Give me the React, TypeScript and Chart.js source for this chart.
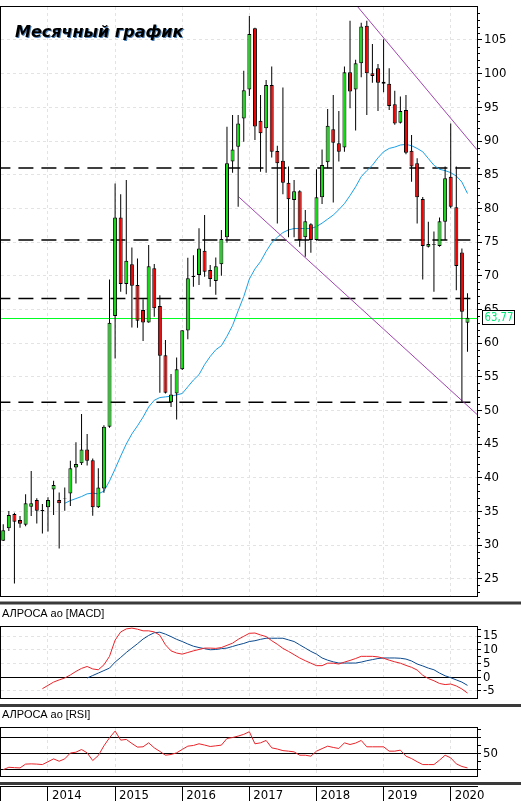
import React, { useEffect, useRef } from 'react';
import { Chart, registerables } from 'chart.js';

Chart.register(...registerables);

const NARROW = '"Liberation Sans Narrow", "Arial Narrow", "DejaVu Sans Condensed", sans-serif';
const SANS = '"Liberation Sans", Arial, sans-serif';

// ---- data (monthly candles, May 2013 .. Apr 2020) ----
const startMonth = 5;
const opens = [30.65, 32.5, 34.6, 33.7, 33.0, 35.7, 36.7, 35.2, 35.6, 38.25, 36.7, 36.9,
  37.65, 41.5, 42.15, 44.2, 42.6, 35.6, 38.4, 47.55, 64.0, 78.65, 68.75, 71.7,
  68.6, 64.9, 63.05, 71.1, 65.5, 58.2, 51.2, 52.5, 56.1, 61.85, 69.8, 70.1,
  73.7, 70.85, 69.2, 71.7, 75.7, 86.95, 89.15, 93.35, 97.65, 106.75, 93.0, 91.9,
  98.3, 88.5, 87.05, 83.8, 81.25, 82.55, 75.7, 77.65, 75.3, 81.65, 86.85, 91.75,
  89.65, 89.05, 100.2, 97.65, 101.55, 107.1, 100.05, 100.8, 98.8, 98.5, 95.45, 92.7,
  94.6, 88.55, 86.7, 81.4, 74.3, 74.6, 74.4, 78.0, 84.7, 80.15, 73.45, 63.0];
const highs = [33.1, 35.05, 34.8, 34.3, 37.55, 41.0, 36.95, 36.1, 37.1, 39.55, 37.8, 38.55,
  42.5, 45.25, 49.45, 46.5, 42.85, 41.4, 47.8, 69.45, 83.7, 82.1, 84.2, 74.2,
  72.55, 66.5, 74.55, 71.75, 67.1, 60.45, 55.4, 57.85, 61.9, 72.65, 73.05, 77.05,
  79.0, 71.6, 72.7, 76.8, 92.1, 93.85, 93.85, 100.45, 108.55, 106.8, 96.85, 99.05,
  101.05, 89.3, 97.95, 86.2, 84.2, 82.7, 79.75, 77.8, 85.8, 88.75, 94.75, 96.85,
  94.45, 101.05, 107.85, 102.05, 107.55, 107.85, 104.4, 101.45, 105.1, 100.8, 97.45, 96.6,
  96.85, 90.9, 87.45, 81.7, 78.0, 76.55, 78.65, 86.2, 92.6, 86.2, 74.05, 67.4];
const lows = [30.6, 32.1, 24.3, 32.55, 32.8, 34.3, 33.2, 31.7, 32.0, 34.45, 29.5, 35.1,
  35.8, 39.15, 41.9, 41.8, 34.35, 35.5, 37.75, 47.4, 57.7, 67.6, 67.25, 62.3,
  62.25, 60.3, 63.0, 63.9, 52.6, 52.5, 50.5, 48.65, 56.0, 60.55, 68.35, 68.6,
  69.85, 68.35, 67.15, 70.0, 74.9, 85.3, 80.25, 89.9, 96.7, 90.15, 85.45, 85.3,
  87.55, 77.75, 82.1, 75.7, 75.7, 74.3, 72.8, 73.4, 75.2, 80.65, 85.95, 80.85,
  86.95, 88.4, 94.85, 91.55, 99.45, 93.85, 98.65, 94.45, 97.25, 94.6, 92.4, 92.6,
  88.05, 83.95, 77.75, 69.45, 74.2, 67.6, 74.3, 75.3, 80.0, 67.85, 51.1, 58.7];
const closes = [32.2, 34.45, 33.45, 33.15, 36.2, 36.2, 35.1, 35.0, 36.7, 38.9, 36.2, 37.0,
  41.4, 42.05, 44.2, 42.5, 35.6, 38.55, 47.55, 63.0, 78.65, 68.75, 72.2, 68.5,
  63.3, 63.05, 71.4, 65.15, 58.1, 52.6, 52.35, 56.1, 61.9, 69.6, 70.0, 74.05,
  70.6, 69.5, 71.4, 75.45, 86.7, 88.75, 92.6, 97.55, 105.9, 92.15, 91.15, 98.3,
  88.4, 86.7, 83.8, 81.35, 82.55, 75.3, 78.1, 75.3, 81.65, 86.45, 92.25, 89.75,
  88.4, 100.2, 97.35, 101.55, 107.0, 100.05, 99.65, 98.65, 98.5, 95.2, 92.6, 94.45,
  88.25, 86.2, 81.65, 74.4, 74.7, 74.7, 78.1, 84.45, 80.25, 71.45, 64.65, 63.77];

// moving average, starts at candle 11
const maStart = 11;
const maValues = [36.2, 36.6, 36.9, 37.2, 37.6, 37.7, 37.6, 38.0, 39.5, 41.3, 43.2, 45.0,
  46.5, 47.7, 49.0, 50.5, 51.5, 51.9, 52.0, 52.1, 52.3, 52.5, 53.5, 54.5,
  55.3, 56.8, 58.0, 59.0, 59.6, 61.0, 62.6, 64.8, 66.9, 69.5, 71.0, 72.1,
  73.6, 74.9, 75.7, 76.4, 76.8, 77.0, 77.0, 77.0, 77.0, 77.3, 77.8, 78.4,
  79.0, 79.8, 80.7, 81.9, 83.2, 84.7, 85.6, 86.4, 87.5, 88.4, 88.9, 89.1,
  89.4, 89.5, 89.3, 88.9, 88.4, 87.4, 86.4, 85.8, 85.6, 85.3, 84.8, 83.9, 82.2];

const levels = [86.0, 75.3, 66.6, 51.2];
const trendUpperX = [63.3, 84.7];
const trendUpperY = [110.0, 88.7];
const trendLowerX = [42.1, 84.7];
const trendLowerY = [81.7, 49.4];

// MACD
const macdStart = 7;
const macdValues = [-4.2, -3.0, -1.8, -1.0, -0.3, 0.8, 2.1, 3.2, 3.9, 3.0, 2.7, 4.5, 7.6,
  13.5, 16.5, 17.6, 17.9, 17.5, 16.9, 16.9, 16.5, 15.3, 11.8, 9.6, 8.8, 8.4, 9.0, 9.6,
  10.1, 10.6, 10.6, 10.5, 10.8, 11.6, 12.4, 13.8, 14.9, 16.0, 16.1, 15.4, 14.8, 13.3,
  12.0, 10.5, 9.4, 8.2, 7.0, 6.0, 5.1, 4.2, 4.2, 5.1, 5.1, 4.8, 5.5, 6.1, 6.8, 7.6,
  7.6, 7.6, 7.4, 6.9, 6.2, 5.6, 5.1, 4.3, 3.6, 2.6, 0.7, -0.5, -1.3, -2.3, -2.7, -2.5,
  -3.2, -4.3, -5.8];
const signalStart = 15;
const signalValues = [-0.3, 0.6, 1.5, 2.4, 3.3, 5.5, 7.2, 9.0, 10.6, 12.2, 13.9, 15.2,
  16.2, 16.4, 15.7, 14.8, 13.8, 13.0, 12.1, 11.3, 10.8, 10.4, 10.0, 10.1, 10.4, 10.6,
  11.2, 11.8, 12.3, 13.0, 13.3, 13.8, 14.2, 14.2, 14.2, 14.2, 13.6, 13.0, 11.8, 10.6,
  9.4, 8.4, 7.0, 6.2, 5.6, 5.15, 5.15, 5.15, 5.15, 5.5, 6.0, 6.4, 6.8, 7.0, 7.0, 7.0,
  6.9, 6.6, 5.9, 4.8, 4.1, 3.3, 2.7, 1.5, 0.5, -0.2, -1.0, -1.8, -3.0];

// RSI
const rsiValues = [30, 33, 32.5, 32.2, 37, 37.3, 37, 36.4, 40, 43.6, 40.6, 43.6,
  51, 52, 55.4, 51.2, 41.5, 47.8, 60, 70.2, 78.6, 67.2, 68.1, 63,
  58.4, 58.8, 63.8, 57.5, 53, 48.2, 49.1, 51.2, 55.5, 59.6, 60.5, 62.6,
  61, 59.2, 60, 60.9, 69.3, 70.5, 72.3, 74.5, 77.8, 62.6, 63.8, 66.8,
  57.5, 56, 54, 53.3, 52.4, 48.2, 48.2, 47, 53.3, 56.5, 59.6, 58,
  56.7, 63.8, 61.7, 63.5, 66.8, 58.8, 58.8, 58.8, 58.8, 53.3, 53.3, 54.6,
  47, 44, 40, 36.4, 36.4, 36.4, 42, 48.2, 44.9, 37.3, 34, 32.2];

const yearLabels = ['2014', '2015', '2016', '2017', '2018', '2019', '2020'];
const priceTicks = [25, 30, 35, 40, 45, 50, 55, 60, 65, 70, 75, 80, 85, 90, 95, 100, 105];
const macdTicks = [-5, -2.5, 0, 2.5, 5, 7.5, 10, 12.5, 15, 17.5];
const rsiTicks = [30, 40, 50, 60, 70, 80];
const rsiLines = [30, 50, 70];

const firstJanIdx = 12 - startMonth + 1;
const yearIdx = yearLabels.map((_, i) => firstJanIdx + 12 * i);
const X_MIN = -0.4;
const X_MAX = 84.7;
const AXIS_W = 44;
const GRID = '#e3e3e3';
const UP = '#10dd10';
const DOWN = '#ee0000';

const series = (start: number, vals: number[]) => vals.map((v, i) => ({ x: start + i, y: v }));
const span = (y: number) => [{ x: X_MIN - 1, y }, { x: X_MAX + 1, y }];

function xScale(color: string, dash: number[]) {
  return {
    type: 'linear', min: X_MIN, max: X_MAX, offset: false,
    afterBuildTicks: (s: any) => { s.ticks = yearIdx.map((v) => ({ value: v })); },
    afterFit: (s: any) => { s.height = 0; s.paddingLeft = 0; s.paddingRight = 0; },
    ticks: { display: false },
    grid: { color, drawTicks: false, offset: false, lineWidth: 1 },
    border: { display: false, dash },
  };
}

function yScale(min: number, max: number, ticks: number[], label: (v: number) => string,
  color: any, dash: any, tickLength: number) {
  return {
    type: 'linear', position: 'right', min, max, beginAtZero: false,
    afterBuildTicks: (s: any) => { s.ticks = ticks.map((v) => ({ value: v })); },
    afterFit: (s: any) => { s.width = AXIS_W; s.paddingTop = 0; s.paddingBottom = 0; },
    ticks: { callback: (v: any) => label(Number(v)), font: { family: NARROW, size: 13 }, color: '#000', padding: 2, autoSkip: false, maxRotation: 0 },
    grid: { color, tickColor: '#000', tickLength, tickWidth: 1, lineWidth: 1, drawTicks: true },
    border: { display: false, dash },
  };
}

const framePlugin = {
  id: 'frame',
  afterDatasetsDraw(chart: any) {
    const { ctx, chartArea: a } = chart;
    ctx.save();
    ctx.strokeStyle = '#000';
    ctx.lineWidth = 1;
    ctx.strokeRect(a.left - 0.5, a.top - 0.5, a.right - a.left + 1, a.bottom - a.top + 1);
    ctx.restore();
  },
};

function decorPlugin(label: string | null, sepY: number, labelY: number) {
  return {
    id: 'decor',
    beforeDraw(chart: any) {
      const { ctx, width } = chart;
      ctx.save();
      ctx.fillStyle = '#3a3a3a';
      ctx.fillRect(0, sepY - 1.5, width, 3);
      if (label) {
        ctx.fillStyle = '#000';
        ctx.font = `11px ${SANS}`;
        ctx.textBaseline = 'alphabetic';
        ctx.textAlign = 'left';
        ctx.fillText(label, 2, labelY);
      }
      ctx.restore();
    },
  };
}

// crisp last-price line, drawn under the candles
const lastLine = {
  id: 'lastLine',
  beforeDatasetsDraw(chart: any) {
    const { ctx, chartArea: a } = chart;
    const ys = chart.scales.y;
    const py = Math.round(ys.getPixelForValue(closes[closes.length - 1])) + 0.5;
    ctx.save();
    ctx.strokeStyle = '#00ff22';
    ctx.lineWidth = 1;
    ctx.beginPath();
    ctx.moveTo(a.left, py);
    ctx.lineTo(a.right, py);
    ctx.stroke();
    ctx.restore();
  },
};

const mainExtras = {
  id: 'mainExtras',
  afterDraw(chart: any) {
    const { ctx, chartArea: a } = chart;
    const ys = chart.scales.y;
    ctx.save();
    // minor ticks
    ctx.strokeStyle = '#000';
    ctx.lineWidth = 1;
    for (let v = Math.ceil(ys.min); v <= Math.floor(ys.max); v++) {
      if (v % 5 === 0) continue;
      const y = Math.round(ys.getPixelForValue(v)) + 0.5;
      ctx.beginPath();
      ctx.moveTo(a.right, y);
      ctx.lineTo(a.right + 3, y);
      ctx.stroke();
    }
    // title
    ctx.font = `italic bold 16px "DejaVu Sans", sans-serif`;
    ctx.textAlign = 'left';
    ctx.textBaseline = 'alphabetic';
    ctx.fillStyle = '#4f7fb5';
    ctx.fillText('Месячный график', 16, 38);
    ctx.fillStyle = '#000';
    ctx.fillText('Месячный график', 15, 37);
    // last price tag
    const last = closes[closes.length - 1];
    const py = Math.round(ys.getPixelForValue(last));
    const txt = last.toFixed(2).replace('.', ',');
    ctx.fillStyle = '#fff';
    ctx.fillRect(482.5, py - 7.5, 32, 14);
    ctx.strokeStyle = '#000';
    ctx.strokeRect(482.5, py - 7.5, 32, 14);
    ctx.fillStyle = '#00e676';
    ctx.font = `13px ${NARROW}`;
    ctx.textBaseline = 'middle';
    const w = ctx.measureText(txt).width;
    const sx = Math.min(1, 29 / w);
    ctx.translate(484.5, py);
    ctx.scale(sx, 1);
    ctx.fillText(txt, 0, 0);
    ctx.restore();
  },
};

const stripLabels = {
  id: 'stripLabels',
  afterDraw(chart: any) {
    const { ctx, chartArea: a } = chart;
    const xs = chart.scales.x;
    ctx.save();
    ctx.strokeStyle = '#000';
    ctx.lineWidth = 1;
    ctx.beginPath();
    ctx.moveTo(0, a.top - 0.5);
    ctx.lineTo(a.right + 1, a.top - 0.5);
    ctx.moveTo(0.5, a.top);
    ctx.lineTo(0.5, a.bottom);
    ctx.stroke();
    ctx.fillStyle = '#000';
    ctx.font = `13px ${NARROW}`;
    ctx.textAlign = 'left';
    ctx.textBaseline = 'alphabetic';
    yearIdx.forEach((v, i) => {
      ctx.fillText(yearLabels[i], xs.getPixelForValue(v) + 4, 18.5);
    });
    ctx.restore();
  },
};

const lineDs = (data: any[], color: string, order: number, extra: any = {}) => ({
  type: 'line', data, borderColor: color, borderWidth: 1, pointRadius: 0, tension: 0,
  fill: false, order, clip: 0, ...extra,
});

export default function App() {
  const mainRef = useRef<HTMLCanvasElement>(null);
  const macdRef = useRef<HTMLCanvasElement>(null);
  const rsiRef = useRef<HTMLCanvasElement>(null);
  const stripRef = useRef<HTMLCanvasElement>(null);

  useEffect(() => {
    const charts: Chart[] = [];
    const base = { responsive: false, animation: false, events: [] as any[],
      plugins: { legend: { display: false }, tooltip: { enabled: false } } };

    const bodies = closes.map((c, i) => ({ x: i, y: [opens[i], c] }));
    const wicks = closes.map((_, i) => ({ x: i, y: [lows[i], highs[i]] }));

    charts.push(new Chart(mainRef.current!, {
      type: 'bar',
      data: {
        datasets: [
          ...levels.map((l) => lineDs(span(l), '#000', 10, { borderWidth: 1.5, borderDash: [15, 8] })),
          lineDs(series(maStart, maValues), '#1aa0e6', 8),
          lineDs(trendUpperX.map((x, i) => ({ x, y: trendUpperY[i] })), '#a044b0', 7),
          lineDs(trendLowerX.map((x, i) => ({ x, y: trendLowerY[i] })), '#a044b0', 7),
          { type: 'bar', data: wicks, backgroundColor: '#000', barThickness: 1, grouped: false, order: 2, borderWidth: 0, inflateAmount: 0 },
          { type: 'bar', data: bodies, grouped: false, order: 1, barThickness: 4, borderWidth: 1,
            borderColor: '#000', borderSkipped: false, inflateAmount: 0,
            backgroundColor: (c: any) => (closes[c.dataIndex] >= opens[c.dataIndex] ? UP : DOWN) },
        ] as any,
      },
      options: {
        ...base,
        layout: { padding: { left: 1, top: 7, bottom: 4, right: 0 } },
        scales: {
          x: xScale(GRID, [3, 3]) as any,
          y: yScale(22.43, 109.9, priceTicks, (v) => String(v), GRID, [3, 3], 5) as any,
        },
      } as any,
      plugins: [lastLine, framePlugin, mainExtras],
    }));

    charts.push(new Chart(macdRef.current!, {
      type: 'line',
      data: {
        datasets: [
          lineDs(series(signalStart, signalValues), '#0b4a8e', 2),
          lineDs(series(macdStart, macdValues), '#e8242a', 1),
        ] as any,
      },
      options: {
        ...base,
        layout: { padding: { left: 1, top: 27, bottom: 4, right: 0 } },
        scales: {
          x: xScale(GRID, [3, 3]) as any,
          y: yScale(-7.6, 18.3, macdTicks, (v) => (v % 5 === 0 ? String(v) : ''),
            (c: any) => (c.tick && c.tick.value === 0 ? '#000' : (c.tick && c.tick.value % 5 === 0 ? GRID : 'rgba(0,0,0,0)')),
            (c: any) => (c.tick && c.tick.value === 0 ? [] : [3, 3]), 4) as any,
        },
      } as any,
      plugins: [decorPlugin('АЛРОСА ао [MACD]', 3, 16.5), framePlugin],
    }));

    charts.push(new Chart(rsiRef.current!, {
      type: 'line',
      data: { datasets: [lineDs(series(0, rsiValues), '#e8242a', 1)] as any },
      options: {
        ...base,
        layout: { padding: { left: 1, top: 26, bottom: 4, right: 0 } },
        scales: {
          x: xScale(GRID, [3, 3]) as any,
          y: yScale(22, 82.5, rsiTicks, (v) => (v === 50 ? '50' : ''),
            (c: any) => (c.tick && rsiLines.includes(c.tick.value) ? '#000' : 'rgba(0,0,0,0)'), [], 4) as any,
        },
      } as any,
      plugins: [decorPlugin('АЛРОСА ао [RSI]', 3.5, 16), framePlugin],
    }));

    charts.push(new Chart(stripRef.current!, {
      type: 'line',
      data: { datasets: [] },
      options: {
        ...base,
        layout: { padding: { left: 1, top: 7, bottom: 0, right: AXIS_W } },
        scales: {
          x: xScale('#000', []) as any,
          y: { display: false, min: 0, max: 1 },
        },
      } as any,
      plugins: [decorPlugin(null, 3.5, 0), stripLabels],
    }));

    return () => charts.forEach((c) => c.destroy());
  }, []);

  const pos = (top: number, h: number): React.CSSProperties => ({ position: 'absolute', left: 0, top, width: 521, height: h });
  return (
    <div style={{ position: 'absolute', left: 0, top: 0, width: 521, height: 801, background: '#fff', overflow: 'hidden' }}>
      <canvas ref={mainRef} width={521} height={600} style={pos(0, 600)} />
      <canvas ref={macdRef} width={521} height={102} style={pos(600, 102)} />
      <canvas ref={rsiRef} width={521} height={78} style={pos(702, 78)} />
      <canvas ref={stripRef} width={521} height={21} style={pos(780, 21)} />
    </div>
  );
}
